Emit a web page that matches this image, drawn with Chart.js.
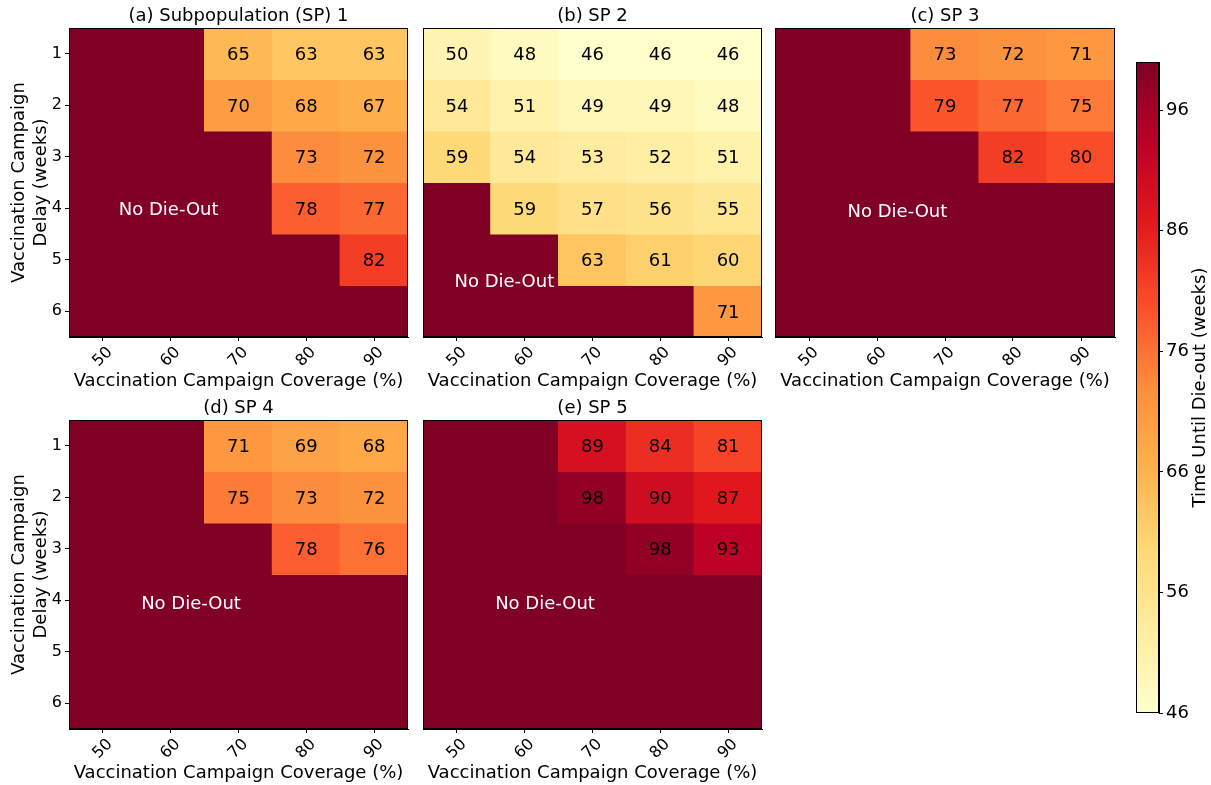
<!DOCTYPE html>
<html>
<head>
<meta charset="utf-8">
<title>Time Until Die-out</title>
<script src="https://cdn.jsdelivr.net/npm/chart.js@4.4.0/dist/chart.umd.min.js"></script>
<style>
    body { margin: 0; background: #fff; }
    #fig { position: relative; width: 1211px; height: 785px; }
    #fig canvas { position: absolute; }
</style>
</head>
<body>
<div id="fig"></div>
<script>
// data
const coverage = ['50', '60', '70', '80', '90'];
const delays = [1, 2, 3, 4, 5, 6];
const colorbarTicks = [46, 56, 66, 76, 86, 96];
const vmin = 46, vmax = 100;

// weeks until die-out, rows = delay 1..6, cols = coverage 50..90, null = no die-out
const sp1 = [
    [null, null, 65, 63, 63],
    [null, null, 70, 68, 67],
    [null, null, null, 73, 72],
    [null, null, null, 78, 77],
    [null, null, null, null, 82],
    [null, null, null, null, null]
];
const sp2 = [
    [50, 48, 46, 46, 46],
    [54, 51, 49, 49, 48],
    [59, 54, 53, 52, 51],
    [null, 59, 57, 56, 55],
    [null, null, 63, 61, 60],
    [null, null, null, null, 71]
];
const sp3 = [
    [null, null, 73, 72, 71],
    [null, null, 79, 77, 75],
    [null, null, null, 82, 80],
    [null, null, null, null, null],
    [null, null, null, null, null],
    [null, null, null, null, null]
];
const sp4 = [
    [null, null, 71, 69, 68],
    [null, null, 75, 73, 72],
    [null, null, null, 78, 76],
    [null, null, null, null, null],
    [null, null, null, null, null],
    [null, null, null, null, null]
];
const sp5 = [
    [null, null, 89, 84, 81],
    [null, null, 98, 90, 87],
    [null, null, null, 98, 93],
    [null, null, null, null, null],
    [null, null, null, null, null],
    [null, null, null, null, null]
];

Chart.defaults.font.family = "'DejaVu Sans', sans-serif";
Chart.defaults.color = '#000';

// matplotlib YlOrRd
const YLORRD = ['#ffffcc', '#ffeda0', '#fed976', '#feb24c', '#fd8d3c', '#fc4e2a', '#e31a1c', '#bd0026', '#800026'];
function hex2rgb(h) {
    return [parseInt(h.slice(1, 3), 16), parseInt(h.slice(3, 5), 16), parseInt(h.slice(5, 7), 16)];
}
function cmap(v) {
    let t = (v - vmin) / (vmax - vmin);
    t = Math.min(1, Math.max(0, t)) * (YLORRD.length - 1);
    const i = Math.min(Math.floor(t), YLORRD.length - 2);
    const f = t - i;
    const a = hex2rgb(YLORRD[i]), b = hex2rgb(YLORRD[i + 1]);
    const c = a.map((x, k) => Math.round(x + (b[k] - x) * f));
    return 'rgb(' + c.join(',') + ')';
}

const fig = document.getElementById('fig');

const panels = [
    { title: '(a) Subpopulation (SP) 1', values: sp1, yAxis: true, box: [69, 28, 408, 337], note: [0.97, 4] },
    { title: '(b) SP 2', values: sp2, yAxis: false, box: [423, 28, 762, 337], note: [0.7, 5.4] },
    { title: '(c) SP 3', values: sp3, yAxis: false, box: [775, 28, 1115, 337], note: [1.3, 4.05] },
    { title: '(d) SP 4', values: sp4, yAxis: true, box: [69, 420, 408, 729], note: [1.3, 4.05] },
    { title: '(e) SP 5', values: sp5, yAxis: false, box: [423, 420, 762, 729], note: [1.3, 4.05] }
];

const heatLabels = {
    id: 'heatLabels',
    afterDatasetsDraw(chart, args, opts) {
        const { ctx, chartArea: a, scales } = chart;
        ctx.save();
        // cell values
        ctx.font = '18px "DejaVu Sans"';
        ctx.textAlign = 'center';
        ctx.textBaseline = 'middle';
        ctx.fillStyle = '#000';
        chart.data.datasets.forEach((ds, r) => {
            const meta = chart.getDatasetMeta(r);
            meta.data.forEach((el, c) => {
                const v = opts.values[r][c];
                if (v === null) return;
                const p = el.getCenterPoint();
                ctx.fillText(String(v), p.x, p.y + 2);
            });
        });
        // no die-out note
        ctx.fillStyle = '#fff';
        ctx.fillText('No Die-Out', scales.x.getPixelForValue(opts.note[0]), scales.y.getPixelForValue(opts.note[1]) + 2);
        // frame
        ctx.strokeStyle = '#000';
        ctx.lineWidth = 1;
        ctx.strokeRect(a.left + 0.5, a.top + 0.5, a.right - a.left - 1, a.bottom - a.top - 1);
        // title
        ctx.fillStyle = '#000';
        ctx.textBaseline = 'alphabetic';
        ctx.fillText(opts.title, (a.left + a.right) / 2, a.top - 7);
        ctx.restore();
    }
};

panels.forEach(p => {
    const padL = p.yAxis ? 69 : 6;
    const w = padL + (p.box[2] - p.box[0]) + 6;
    const h = 28 + (p.box[3] - p.box[1]) + 58;
    const cv = document.createElement('canvas');
    cv.width = w; cv.height = h;
    cv.style.left = (p.box[0] - padL) + 'px';
    cv.style.top = (p.box[1] - 28) + 'px';
    cv.style.width = w + 'px'; cv.style.height = h + 'px';
    fig.appendChild(cv);

    new Chart(cv, {
        type: 'bar',
        data: {
            labels: coverage,
            datasets: delays.map((d, r) => ({
                data: coverage.map(() => [d - 0.5, d + 0.5]),
                backgroundColor: p.values[r].map(v => cmap(v === null ? vmax : v)),
                borderWidth: 0,
                inflateAmount: 0.6,
                barPercentage: 1,
                categoryPercentage: 1,
                grouped: false
            }))
        },
        options: {
            responsive: false,
            animation: false,
            layout: { padding: { left: p.yAxis ? 0 : padL, top: 28, right: 6, bottom: 0 } },
            plugins: {
                legend: { display: false },
                tooltip: { enabled: false },
                heatLabels: { values: p.values, note: p.note, title: p.title }
            },
            scales: {
                x: {
                    offset: true,
                    grid: { offset: false, drawOnChartArea: false, tickLength: 4, color: '#000' },
                    border: { color: '#000' },
                    ticks: { minRotation: 45, maxRotation: 45, font: { size: 16 }, labelOffset: 7, padding: 2 },
                    title: { display: true, text: 'Vaccination Campaign Coverage (%)', font: { size: 18 }, padding: { top: 0, bottom: 3 } },
                    afterFit: s => { s.height = 58; s.paddingLeft = 0; s.paddingRight = 0; }
                },
                y: {
                    type: 'linear',
                    min: 0.5,
                    max: 6.5,
                    reverse: true,
                    display: p.yAxis,
                    afterBuildTicks: s => { s.ticks = delays.map(v => ({ value: v })); },
                    grid: { drawOnChartArea: false, tickLength: 4, color: '#000' },
                    border: { color: '#000' },
                    ticks: { font: { size: 16 }, padding: 3 },
                    title: { display: true, text: ['Vaccination Campaign', 'Delay (weeks)'], font: { size: 18 }, padding: { top: 9, bottom: 0 } },
                    afterFit: s => {
                        if (p.yAxis) s.width = 69;
                        s.paddingTop = 0; s.paddingBottom = 0;
                    }
                }
            }
        },
        plugins: [heatLabels]
    });
});

// colorbar
const cbLabel = {
    id: 'cbLabel',
    afterDatasetsDraw(chart) {
        const { ctx, chartArea: a } = chart;
        ctx.save();
        ctx.strokeStyle = '#000';
        ctx.lineWidth = 1;
        ctx.strokeRect(a.left + 0.5, a.top + 0.5, a.right - a.left - 1, a.bottom - a.top - 1);
        ctx.translate(a.right + 41, (a.top + a.bottom) / 2);
        ctx.rotate(-Math.PI / 2);
        ctx.font = '18px "DejaVu Sans"';
        ctx.fillStyle = '#000';
        ctx.textAlign = 'center';
        ctx.textBaseline = 'middle';
        ctx.fillText('Time Until Die-out (weeks)', 0, 0);
        ctx.restore();
    }
};

const cb = document.createElement('canvas');
cb.width = 85; cb.height = 671;
cb.style.left = '1126px'; cb.style.top = '52px';
cb.style.width = '85px'; cb.style.height = '671px';
fig.appendChild(cb);

new Chart(cb, {
    type: 'bar',
    data: {
        labels: [''],
        datasets: [{
            data: [[vmin, vmax]],
            borderWidth: 0,
            barPercentage: 1,
            categoryPercentage: 1,
            backgroundColor: c => {
                const { chart } = c;
                if (!chart.chartArea) return YLORRD[4];
                const y = chart.scales.y;
                const g = chart.ctx.createLinearGradient(0, y.getPixelForValue(vmin), 0, y.getPixelForValue(vmax));
                YLORRD.forEach((col, k) => g.addColorStop(k / (YLORRD.length - 1), col));
                return g;
            }
        }]
    },
    options: {
        responsive: false,
        animation: false,
        layout: { padding: { left: 10, top: 10, right: 0, bottom: 10 } },
        plugins: { legend: { display: false }, tooltip: { enabled: false } },
        scales: {
            x: { display: false },
            y: {
                position: 'right',
                min: vmin,
                max: vmax,
                afterBuildTicks: s => { s.ticks = colorbarTicks.map(v => ({ value: v })); },
                grid: { drawOnChartArea: false, tickLength: 4, color: '#000' },
                border: { color: '#000' },
                ticks: { font: { size: 18 }, padding: 3 },
                afterFit: s => { s.width = 52; s.paddingTop = 0; s.paddingBottom = 0; }
            }
        }
    },
    plugins: [cbLabel]
});
</script>
</body>
</html>
